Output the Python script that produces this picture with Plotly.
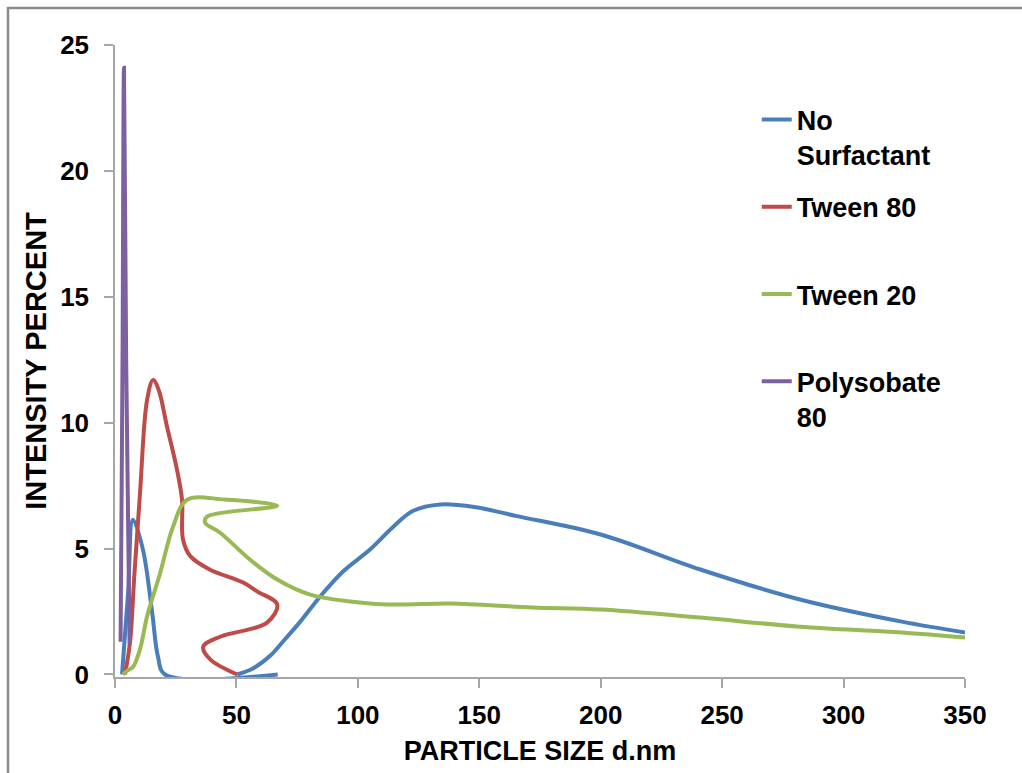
import plotly.graph_objects as go

# ---- data ----
no_surf_x = [2.9, 5.4, 7.4, 11.5, 15.3, 17.7, 20.6, 67.0, None,
             50.3, 57.0, 64.0, 70.0, 76.3, 84.5, 94.0, 105.0, 114.6, 122.8, 134.0,
             148.0, 165.0, 200.0, 241.0, 282.0, 324.0, 350.0]
no_surf_y = [0.0, 3.25, 6.15, 4.96, 2.46, 0.7, 0.0, 0.0, None,
             0.0, 0.25, 0.75, 1.4, 2.1, 3.1, 4.1, 4.96, 5.87, 6.5, 6.75,
             6.65, 6.3, 5.56, 4.17, 2.98, 2.1, 1.67]

tween80_x = [4.1, 6.2, 8.0, 10.3, 13.2, 15.7, 18.0, 21.4, 25.6, 27.6, 28.0, 31.0, 39.0,
             52.8, 58.5, 66.8, 62.6, 43.3, 36.3, 39.2, 50.3]
tween80_y = [0.0, 1.3, 4.0, 7.2, 10.9, 11.7, 11.3, 9.85, 8.1, 6.94, 5.36, 4.7, 4.17,
             3.65, 3.3, 2.78, 2.06, 1.5, 1.1, 0.6, 0.0]

tween20_x = [3.3, 5.0, 7.4, 10.3, 13.2, 18.5, 24.0, 29.7, 45.0, 66.8, 37.9, 37.1, 43.3,
             55.6, 66.8, 80.4, 105.0, 117.5, 138.0, 172.0, 200.0, 241.0, 282.0, 324.0, 350.0]
tween20_y = [0.0, 0.15, 0.3, 1.0, 2.3, 4.0, 5.9, 6.94, 6.95, 6.7, 6.27, 6.03, 5.63,
             4.56, 3.77, 3.17, 2.82, 2.78, 2.82, 2.66, 2.58, 2.26, 1.9, 1.67, 1.47]

poly80_x = [2.3, 3.1, 3.7, 4.6, 6.0]
poly80_y = [1.3, 12.5, 24.1, 12.5, 1.2]

series_names = ["No<br>Surfactant", "Tween 80<br> ", "Tween 20<br> ", "Polysobate<br>80"]
series_colors = ["#4A7EBB", "#BE4B48", "#98B954", "#7D60A0"]

x_ticks = [0, 50, 100, 150, 200, 250, 300, 350]
y_ticks = [0, 5, 10, 15, 20, 25]

FONT = "Liberation Sans, Arial, sans-serif"

fig = go.Figure()
for i, (xs, ys) in enumerate([(no_surf_x, no_surf_y), (tween80_x, tween80_y),
                              (tween20_x, tween20_y), (poly80_x, poly80_y)]):
    fig.add_trace(go.Scatter(
        x=xs, y=ys, mode="lines", name=series_names[i],
        legendgroup=f"g{i}",
        line=dict(color=series_colors[i], width=4, shape="spline", smoothing=1.0),
        connectgaps=False, cliponaxis=False,
    ))

axis_common = dict(
    showgrid=False, zeroline=False, showline=True, linecolor="#A6A6A6", linewidth=1.5,
    ticks="outside", ticklen=9, tickcolor="#A6A6A6", tickwidth=1.5,
    layer="below traces",
    tickfont=dict(family=FONT, size=26, color="black", weight="bold"),
)

fig.update_layout(
    width=1022, height=773,
    margin=dict(l=115, r=57, t=45, b=95.5),
    paper_bgcolor="white", plot_bgcolor="white",
    showlegend=True,
    legend=dict(
        x=0.755, y=0.92, xanchor="left", yanchor="top",
        font=dict(family=FONT, size=27, color="black", weight="bold"),
        valign="top", tracegroupgap=14, bgcolor="rgba(0,0,0,0)",
    ),
    xaxis=dict(range=[0, 350], tickvals=x_ticks, ticklabelstandoff=5,
               title=dict(text="PARTICLE SIZE d.nm", standoff=12,
                          font=dict(family=FONT, size=27, color="black", weight="bold")),
               **axis_common),
    yaxis=dict(range=[-0.1, 25], tickvals=y_ticks, ticklabelstandoff=10,
               title=dict(text="INTENSITY PERCENT", standoff=5,
                          font=dict(family=FONT, size=29, color="black", weight="bold")),
               **axis_common),
    shapes=[dict(type="rect", xref="paper", yref="paper",
                 x0=(8 - 115) / 850, x1=(1040 - 115) / 850,
                 y0=(675 - 790) / 630, y1=(675 - 8) / 630,
                 line=dict(color="#8C8C8C", width=2.5), layer="below")],
)

fig.write_html("out.html")
